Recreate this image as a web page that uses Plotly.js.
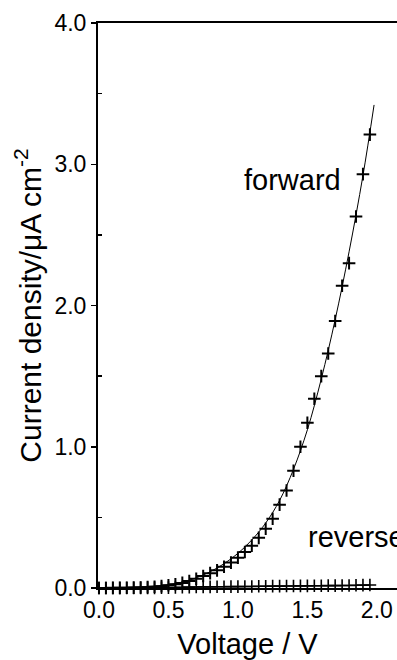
<!DOCTYPE html>
<html>
<head>
<meta charset="utf-8">
<script src="https://cdn.plot.ly/plotly-3.0.1.min.js"></script>
<style>html,body{margin:0;padding:0;background:#fff;}#chart{width:397px;height:660px;}</style>
</head>
<body>
<div id="chart"></div>
<script>
// Forward bias measured points
const forwardV = [0.00,0.05,0.10,0.15,0.20,0.25,0.30,0.35,0.40,0.45,0.50,0.55,0.60,0.65,0.70,0.75,0.80,0.85,0.90,0.95,1.00,1.05,1.10,1.15,1.20,1.25,1.30,1.35,1.40,1.45,1.50,1.55,1.60,1.65,1.70,1.75,1.80,1.85,1.90,1.95];
const forwardJ = [0.000,0.000,0.001,0.001,0.002,0.003,0.004,0.006,0.009,0.013,0.019,0.027,0.036,0.050,0.065,0.085,0.105,0.125,0.150,0.180,0.215,0.255,0.300,0.355,0.420,0.490,0.590,0.690,0.830,1.000,1.170,1.340,1.500,1.660,1.890,2.140,2.300,2.630,2.930,3.210];
// Fitted curve (forward)
const fitV = [0.0,0.1,0.2,0.3,0.4,0.5,0.6,0.7,0.8,0.9,1.0,1.1,1.2,1.3,1.4,1.5,1.6,1.7,1.8,1.9,1.98];
const fitJ = [0.000,0.002,0.004,0.008,0.014,0.024,0.042,0.072,0.115,0.172,0.245,0.340,0.460,0.620,0.840,1.120,1.480,1.900,2.380,2.920,3.420];
// Reverse bias measured points
const reverseV = [0.00,0.05,0.10,0.15,0.20,0.25,0.30,0.35,0.40,0.45,0.50,0.55,0.60,0.65,0.70,0.75,0.80,0.85,0.90,0.95,1.00,1.05,1.10,1.15,1.20,1.25,1.30,1.35,1.40,1.45,1.50,1.55,1.60,1.65,1.70,1.75,1.80,1.85,1.90,1.95];
const reverseJ = [0.000,0.000,0.000,0.000,0.000,0.000,0.001,0.001,0.001,0.002,0.003,0.004,0.005,0.006,0.007,0.008,0.008,0.009,0.009,0.010,0.010,0.011,0.011,0.012,0.012,0.013,0.013,0.014,0.014,0.015,0.015,0.016,0.016,0.017,0.017,0.018,0.018,0.019,0.020,0.021];
const xTicks = [0.0,0.5,1.0,1.5,2.0];
const xTickText = ["0.0","0.5","1.0","1.5","2.0"];
const yTicks = [0,1,2,3,4];
const yTickText = ["0.0","1.0","2.0","3.0","4.0"];

const FONT = "Liberation Sans, Arial, Helvetica, sans-serif";

const traces = [
  {x: fitV, y: fitJ, type: "scatter", mode: "lines", line: {color: "#000", width: 1, shape: "spline"}, hoverinfo: "skip", cliponaxis: false},
  {x: reverseV, y: reverseJ, type: "scatter", mode: "markers", cliponaxis: false,
   marker: {symbol: "cross-thin", size: 9, line: {color: "#000", width: 1.6}}},
  {x: forwardV, y: forwardJ, type: "scatter", mode: "markers", cliponaxis: false,
   marker: {symbol: "cross-thin", size: 9, line: {color: "#000", width: 2}}}
];

const layout = {
  width: 397, height: 660,
  margin: {l: 98, r: 0, t: 23, b: 72},
  showlegend: false,
  paper_bgcolor: "#fff", plot_bgcolor: "#fff",
  font: {family: FONT, color: "#000", size: 22},
  xaxis: {
    range: [-0.007, 2.145],
    showgrid: false, zeroline: false,
    showline: true, linecolor: "#000", linewidth: 2, mirror: true,
    ticks: "", tickvals: xTicks, ticktext: xTickText,
    tickfont: {family: FONT, size: 23, color: "#000"},
    ticklabelstandoff: 0,
    title: {text: "Voltage / V", font: {family: FONT, size: 29, color: "#000"}, standoff: 19}
  },
  yaxis: {
    range: [0, 4],
    showgrid: false, zeroline: false,
    showline: true, linecolor: "#000", linewidth: 2, mirror: false,
    ticks: "outside", ticklen: 5, tickwidth: 1.5, tickcolor: "#000",
    tickvals: yTicks, ticktext: yTickText,
    tickfont: {family: FONT, size: 23, color: "#000"},
    minor: {tickvals: [0.5,1.5,2.5,3.5], ticks: "inside", ticklen: 4, tickwidth: 1.5, tickcolor: "#000"},
    title: {text: "Current density/μA cm<sup>-2</sup>", font: {family: FONT, size: 30, color: "#000"}, standoff: 4}
  },
  annotations: [
    {x: 1.39, y: 2.89, xref: "x", yref: "y", text: "forward", showarrow: false,
     font: {family: FONT, size: 29, color: "#000"}, xanchor: "center", yanchor: "middle"},
    {x: 1.487, y: 0.36, xref: "x", yref: "y", text: "reverse", showarrow: false,
     font: {family: FONT, size: 29, color: "#000"}, xanchor: "left", yanchor: "middle"}
  ]
};

Plotly.newPlot("chart", traces, layout, {displayModeBar: false, staticPlot: true});
</script>
</body>
</html>
